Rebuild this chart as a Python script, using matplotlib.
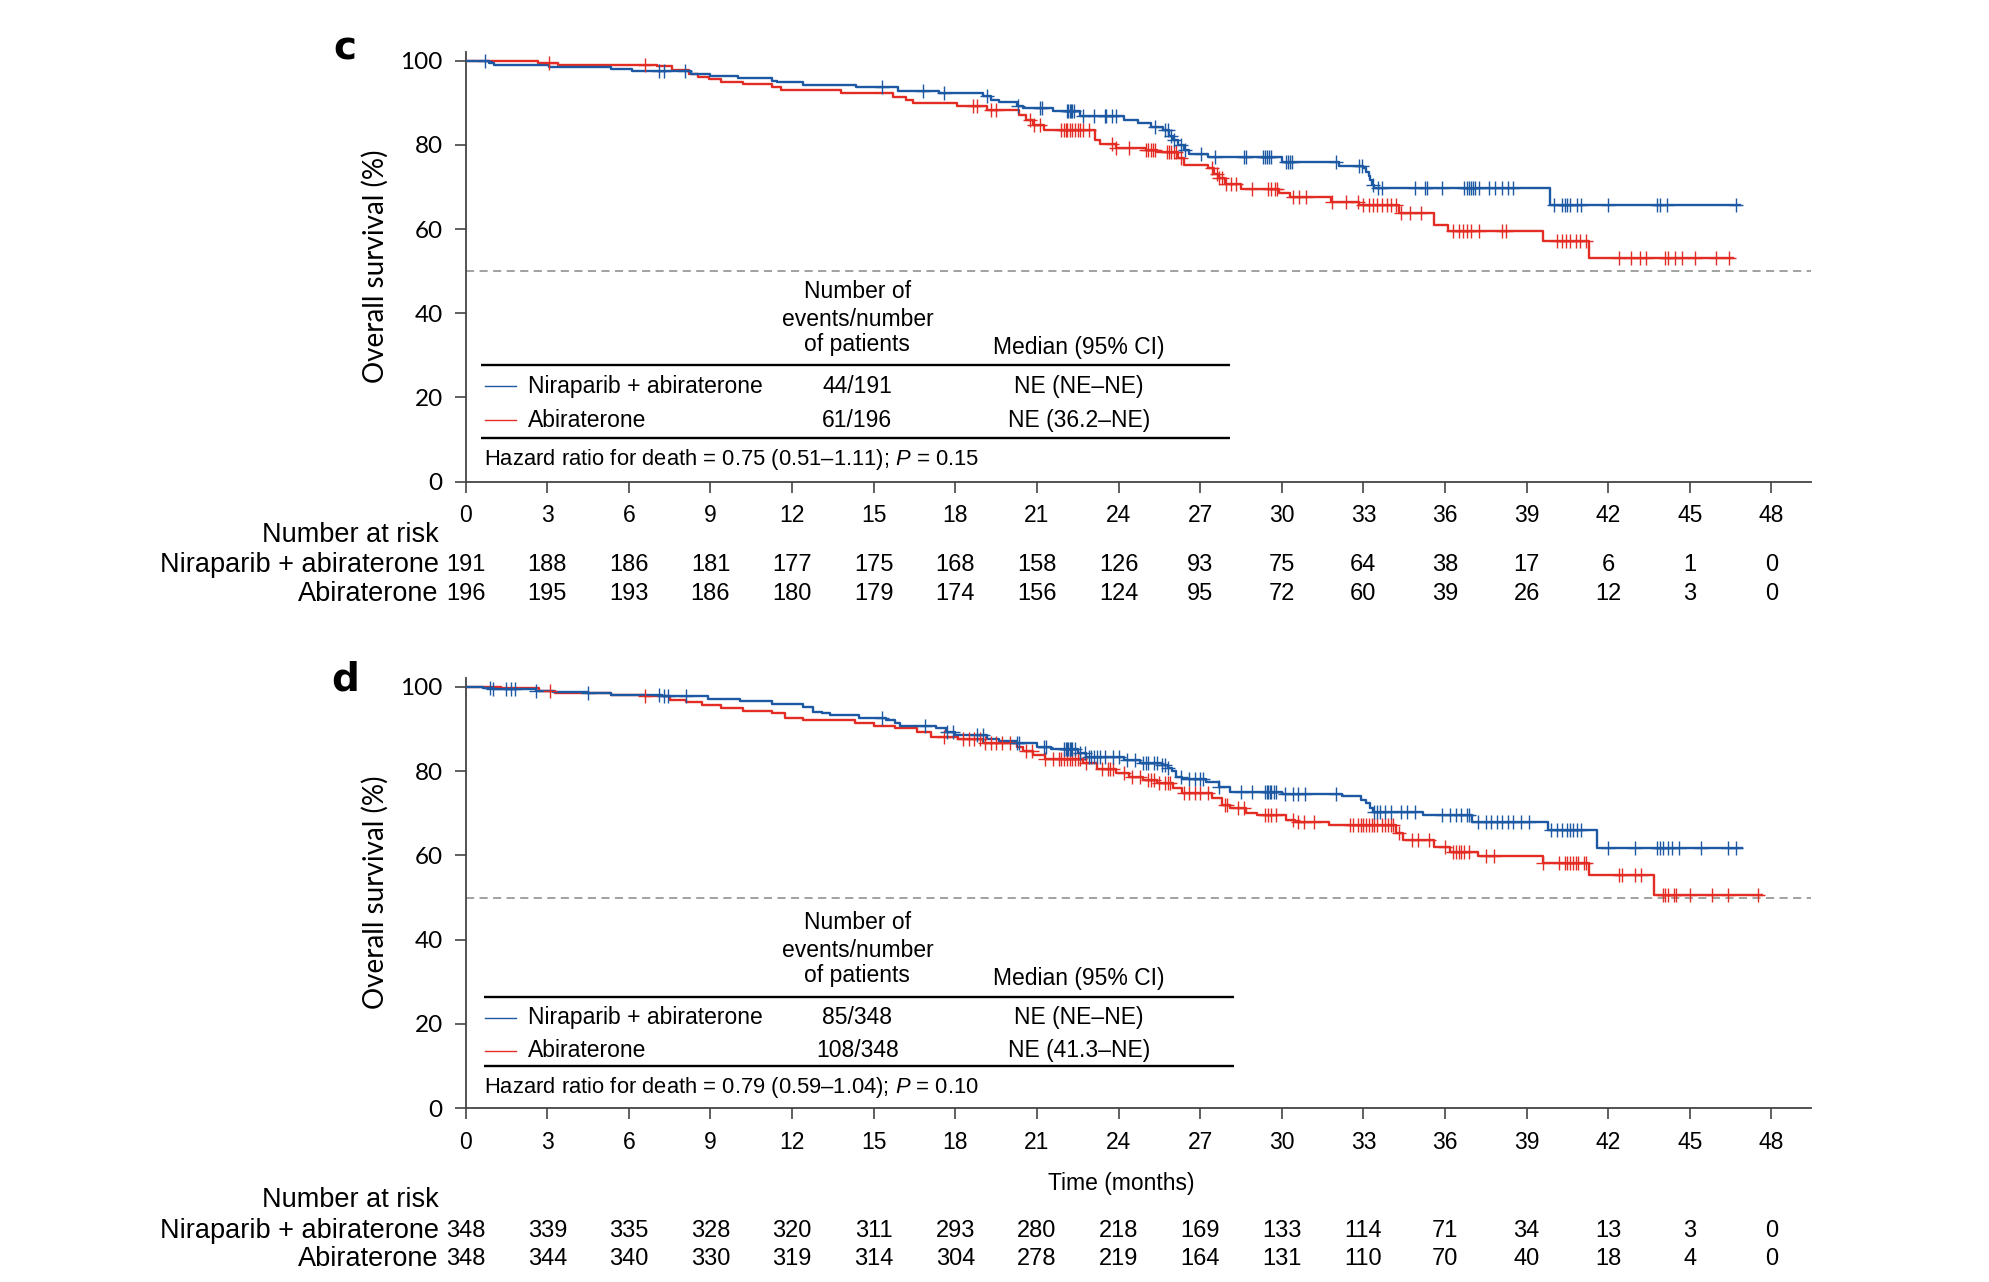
import numpy as np
import matplotlib
matplotlib.use('Agg')
import matplotlib.pyplot as plt
from matplotlib.transforms import blended_transform_factory

MAIN = ['Liberation Sans', 'DejaVu Sans']
YFONT = ['Lato', 'DejaVu Sans']
plt.rcParams['font.family'] = MAIN
plt.rcParams['mathtext.fontset'] = 'custom'
plt.rcParams['mathtext.rm'] = 'Liberation Sans'
plt.rcParams['mathtext.it'] = 'Liberation Sans:italic'

BLUE = '#1d58a2'
RED = '#e32d24'

x_ticks = list(range(0, 49, 3))
y_ticks = [0, 20, 40, 60, 80, 100]
arm_names = ['Niraparib + abiraterone', 'Abiraterone']

# ---------------- Panel c ----------------
c_nir_t = [0, 0.85, 1.05, 3.08, 5.35, 6.1, 8.3, 9.0, 10.0, 11.25, 11.45, 12.4, 14.35,
           15.9, 17.4, 19.0, 19.3, 19.6, 20.25, 20.5, 21.6, 22.6, 24.2, 24.7, 25.2,
           25.65, 25.85, 26.0, 26.2, 26.4, 26.6, 27.3, 30.0, 32.1, 33.0, 33.1, 33.2,
           33.25, 33.3, 33.4, 39.85]
c_nir_s = [100, 99.5, 99.0, 98.4, 97.9, 97.5, 96.9, 96.4, 95.9, 95.2, 94.8, 94.3, 93.7,
           92.7, 92.2, 91.5, 90.7, 90.1, 89.2, 88.7, 88.0, 86.9, 86.0, 85.2, 84.3,
           83.4, 82.1, 81.1, 79.9, 78.7, 77.9, 77.0, 76.0, 75.0, 74.4, 73.6, 72.6,
           71.6, 70.4, 69.7, 65.6]
c_nir_end = 46.85
c_nir_cens = [0.72, 7.1, 7.3, 8.05, 15.3, 16.8, 17.6, 19.15, 20.3, 21.1, 21.2, 22.1, 22.15,
              22.2, 22.25, 22.3, 22.35, 22.7, 23.1, 23.5, 23.55, 23.75, 23.9, 25.35, 25.7,
              25.8, 25.94, 26.02, 26.3, 26.45, 27.04, 27.54, 28.6, 28.7, 29.3, 29.38, 29.45,
              29.52, 29.6, 30.15, 30.22, 30.3, 30.38, 32.0, 32.85, 32.94, 33.36, 33.55, 33.7,
              34.9, 35.25, 35.35, 35.9, 36.7, 36.8, 36.88, 36.95, 37.03, 37.12, 37.25, 37.6,
              37.85, 38.1, 38.3, 38.5, 40.0, 40.3, 40.4, 40.5, 40.6, 40.85, 41.0, 42.0,
              43.8, 43.9, 44.15, 46.7]

c_abi_t = [0, 2.66, 3.4, 7.04, 7.6, 8.2, 8.55, 8.95, 9.4, 10.2, 11.25, 11.6, 13.8, 15.7,
           16.2, 16.45, 18.05, 19.15, 20.35, 20.6, 20.85, 21.25, 23.15, 23.3, 23.9, 25.0,
           25.4, 26.2, 26.4, 27.3, 27.5, 27.7, 27.9, 28.5, 29.9, 30.3, 31.8, 32.85, 34.3,
           35.6, 36.1, 39.6, 41.3]
c_abi_s = [100, 99.5, 99.0, 98.6, 97.8, 96.8, 96.2, 95.6, 94.9, 94.4, 93.8, 92.9, 92.2, 91.4,
           90.7, 90.0, 89.2, 88.3, 87.1, 85.9, 84.7, 83.5, 81.2, 80.1, 79.3, 78.7,
           78.2, 76.8, 75.3, 74.4, 73.0, 72.0, 70.6, 69.6, 68.6, 67.7, 66.5, 65.7, 63.9,
           60.9, 59.5, 57.1, 53.0]
c_abi_end = 46.6
c_abi_cens = [3.08, 6.6, 18.65, 18.8, 19.3, 19.5, 20.75, 20.9, 21.1, 21.9, 22.0, 22.05, 22.1,
              22.2, 22.3, 22.4, 22.5, 22.6, 22.7, 22.9, 23.75, 23.9, 24.4, 25.0, 25.1, 25.18,
              25.26, 25.35, 25.77, 25.85, 25.94, 26.02, 26.1, 26.3, 27.45, 27.62, 27.7, 27.8,
              27.96, 28.13, 28.3, 28.9, 29.5, 29.6, 29.75, 29.82, 30.4, 30.65, 30.9, 31.85,
              32.35, 32.8, 33.0, 33.2, 33.35, 33.5, 33.7, 33.85, 34.0, 34.2, 34.4, 34.7, 35.1,
              36.3, 36.5, 36.65, 36.8, 36.95, 37.25, 38.1, 38.25, 40.1, 40.3, 40.45, 40.6,
              40.8, 40.95, 41.2, 42.4, 42.85, 43.15, 43.4, 44.1, 44.2, 44.45, 44.7, 45.2, 45.95,
              46.45]

c_risk_nir = [191, 188, 186, 181, 177, 175, 168, 158, 126, 93, 75, 64, 38, 17, 6, 1, 0]
c_risk_abi = [196, 195, 193, 186, 180, 179, 174, 156, 124, 95, 72, 60, 39, 26, 12, 3, 0]
c_events = ['44/191', '61/196']
c_median = ['NE (NE\u2013NE)', 'NE (36.2\u2013NE)']
c_hr = 'Hazard ratio for death = 0.75 (0.51\u20131.11); $\\it{P}$ = 0.15'

# ---------------- Panel d ----------------
d_nir_t = [0, 0.64, 1.0, 2.6, 3.2, 4.5, 5.35, 7.2, 7.7, 8.9, 10.1, 11.25, 12.4, 12.75, 13.1,
           13.4, 14.45, 15.45, 15.8, 15.95, 17.3, 17.65, 18.0, 19.15, 19.6, 20.25, 21.0,
           21.5, 22.5, 22.8, 24.2, 24.8, 25.6, 25.8, 25.95, 26.1, 26.35, 27.2, 27.7, 28.1,
           30.0, 32.2, 32.9, 33.1, 33.25, 33.36, 35.2, 37.0, 39.8, 41.6]
d_nir_s = [100, 99.7, 99.4, 99.0, 98.7, 98.4, 98.1, 97.9, 97.7, 97.2, 96.7, 96.0, 95.3, 94.1, 93.7,
           93.3, 92.5, 92.1, 91.3, 90.7, 90.1, 89.3, 88.5, 87.7, 87.1, 86.6, 85.8,
           85.2, 84.3, 83.4, 82.6, 82.0, 81.5, 80.7, 79.9, 78.7, 78.1, 77.3, 76.2, 75.1,
           74.5, 74.0, 73.2, 72.4, 71.2, 70.4, 69.6, 68.0, 66.0, 61.7]
d_nir_end = 46.9
d_nir_cens = [0.9, 1.0, 1.5, 1.65, 1.8, 2.6, 4.5, 7.1, 7.3, 7.45, 8.1, 15.3, 16.9, 17.7, 17.9,
              18.8, 19.0, 20.25, 20.35, 21.25, 21.35, 22.0, 22.05, 22.1, 22.15, 22.2, 22.25,
              22.3, 22.4, 22.6, 22.75, 22.9, 23.0, 23.1, 23.2, 23.3, 23.5, 23.8, 24.0, 24.3,
              24.6, 24.9, 25.0, 25.1, 25.3, 25.4, 25.6, 25.7, 25.8, 26.3, 26.6, 26.8, 27.0,
              27.1, 27.7, 28.5, 28.9, 29.4, 29.45, 29.5, 29.55, 29.6, 29.7, 29.8, 30.1, 30.4,
              30.6, 30.85, 32.0, 33.4, 33.5, 33.6, 33.8, 34.0, 34.4, 34.6, 34.9, 35.9, 36.2,
              36.4, 36.6, 36.8, 36.9, 37.2, 37.5, 37.7, 37.9, 38.1, 38.3, 38.5, 38.8, 39.1,
              39.9, 40.1, 40.3, 40.5, 40.6, 40.7, 40.85, 41.0, 42.0, 43.0, 43.8, 43.9, 44.0,
              44.2, 44.35, 44.6, 45.4, 46.4, 46.7]

d_abi_t = [0, 1.3, 2.7, 3.3, 5.35, 6.6, 7.5, 8.1, 8.7, 9.4, 10.2, 11.25, 11.75, 12.4, 14.3,
           15.0, 15.8, 16.6, 17.1, 18.1, 19.0, 20.25, 20.5, 20.85, 21.3, 22.7, 23.2, 23.9,
           24.4, 24.9, 25.4, 26.0, 26.35, 27.45, 27.8, 28.1, 28.7, 29.1, 30.15, 30.5, 31.75,
           34.2, 34.45, 35.6, 36.2, 37.2, 39.6, 41.3, 43.7]
d_abi_s = [100, 99.6, 99.0, 98.4, 98.1, 97.9, 96.8, 96.4, 95.7, 94.9, 94.2, 93.7, 92.5, 92.1, 91.5,
           90.7, 90.1, 89.3, 88.1, 87.5, 86.6, 85.8, 84.8, 83.8, 82.8, 81.8, 80.4, 79.5,
           78.7, 77.9, 77.1, 75.9, 74.7, 73.6, 72.0, 71.2, 70.1, 69.6, 68.4, 67.8, 67.2,
           65.3, 63.7, 62.1, 60.9, 59.9, 58.3, 55.4, 50.6]
d_abi_end = 47.65
d_abi_cens = [3.1, 6.6, 17.6, 18.3, 18.5, 18.7, 18.9, 19.1, 19.3, 19.5, 19.7, 20.0, 20.6, 20.8,
              21.3, 21.6, 21.8, 21.9, 22.0, 22.1, 22.2, 22.3, 22.4, 22.5, 22.6, 22.8, 23.4,
              23.6, 23.7, 23.8, 24.2, 24.5, 24.8, 25.1, 25.2, 25.3, 25.5, 25.7, 25.8, 25.9,
              26.4, 26.6, 26.8, 27.0, 27.3, 27.9, 28.0, 28.4, 28.6, 29.4, 29.5, 29.6, 29.8,
              30.4, 30.6, 30.8, 31.2, 32.5, 32.6, 32.8, 32.9, 33.0, 33.1, 33.2, 33.3, 33.4,
              33.5, 33.7, 33.8, 33.9, 34.0, 34.1, 34.3, 34.8, 35.0, 35.4, 36.0, 36.3, 36.4,
              36.5, 36.6, 36.7, 36.9, 37.5, 37.8, 39.6, 40.2, 40.4, 40.5, 40.6, 40.7, 40.8,
              40.9, 41.1, 41.2, 42.4, 42.5, 43.0, 43.2, 44.0, 44.1, 44.2, 44.4, 44.5, 45.0,
              45.8, 46.4, 47.5]

d_risk_nir = [348, 339, 335, 328, 320, 311, 293, 280, 218, 169, 133, 114, 71, 34, 13, 3, 0]
d_risk_abi = [348, 344, 340, 330, 319, 314, 304, 278, 219, 164, 131, 110, 70, 40, 18, 4, 0]
d_events = ['85/348', '108/348']
d_median = ['NE (NE\u2013NE)', 'NE (41.3\u2013NE)']
d_hr = 'Hazard ratio for death = 0.79 (0.59\u20131.04); $\\it{P}$ = 0.10'

XMAX = 49.45
YMAX = 102

fig = plt.figure(figsize=(19.9, 12.82), dpi=100)
AX_LEFT = 0.2340
AX_W = 0.6760
ax_c = fig.add_axes([AX_LEFT, 0.6243, AX_W, 0.335])
ax_d = fig.add_axes([AX_LEFT, 0.1355, AX_W, 0.3354])


def surv_at(t, s, c):
    idx = np.searchsorted(np.asarray(t), np.asarray(c), side='right') - 1
    return np.asarray(s)[idx]


def draw_arm(ax, t, s, end, cens, color):
    xs = list(t) + [end]
    ys = list(s) + [s[-1]]
    ax.step(xs, ys, where='post', color=color, lw=1.7, zorder=3)
    ax.plot(cens, surv_at(t, s, cens), ls='none', marker='+', ms=9.5, mew=1.0,
            color=color, zorder=4)


def style_axes(ax):
    ax.set_xlim(0, XMAX)
    ax.set_ylim(0, YMAX)
    for sp in ['top', 'right']:
        ax.spines[sp].set_visible(False)
    for sp in ['left', 'bottom']:
        ax.spines[sp].set_color('#444444')
        ax.spines[sp].set_linewidth(1.3)
    ax.set_xticks(x_ticks)
    ax.set_yticks(y_ticks)
    ax.tick_params(axis='both', direction='out', length=8, width=1.2, color='#444444',
                   labelcolor='black')
    ax.tick_params(axis='x', pad=8, labelsize=16.5)
    ax.tick_params(axis='y', pad=8.5, labelsize=17.5)
    for lab in ax.get_yticklabels():
        lab.set_family(YFONT)
    ax.set_ylabel('Overall survival (%)', family=YFONT, fontsize=20)
    ax.yaxis.set_label_coords(-0.057, 0.502)
    ax.axhline(50, color='#9a9a9a', lw=1.3, ls=(0, (4.5, 3)), zorder=1)


def draw_table(ax, ys, events, median, hr):
    (y_h1, y_h2, y_h3, y_med, y_top, y_r1, y_r2, y_bot, y_hr, x_r0, x_r1) = ys
    fs = 16.5
    ax.text(14.4, y_h1, 'Number of', ha='center', va='center', fontsize=fs)
    ax.text(14.4, y_h2, 'events/number', ha='center', va='center', fontsize=fs)
    ax.text(14.4, y_h3, 'of patients', ha='center', va='center', fontsize=fs)
    ax.text(22.55, y_med, 'Median (95% CI)', ha='center', va='center', fontsize=fs)
    ax.plot([x_r0, x_r1], [y_top, y_top], color='black', lw=1.7, solid_capstyle='butt')
    ax.plot([x_r0, x_r1], [y_bot, y_bot], color='black', lw=1.7, solid_capstyle='butt')
    for y, col, name, ev, med in zip([y_r1, y_r2], [BLUE, RED], arm_names, events, median):
        ax.plot([0.72, 1.85], [y, y], color=col, lw=1.0)
        ax.text(2.3, y, name, ha='left', va='center', fontsize=fs)
        ax.text(14.4, y, ev, ha='center', va='center', fontsize=fs)
        ax.text(22.55, y, med, ha='center', va='center', fontsize=fs)
    ax.text(0.67, y_hr, hr, ha='left', va='center', fontsize=15.8)


def draw_risk(ax, y_head, y1, y2, risk1, risk2):
    trans = blended_transform_factory(ax.transData, fig.transFigure)
    fig.text(0.2205, y_head, 'Number at risk', ha='right', va='center', fontsize=19.5)
    fig.text(0.2205, y1, arm_names[0], ha='right', va='center', fontsize=19.5)
    fig.text(0.2205, y2, arm_names[1], ha='right', va='center', fontsize=19.5)
    for xt, a, b in zip(x_ticks, risk1, risk2):
        ax.text(xt, y1, str(a), transform=trans, ha='center', va='center', fontsize=17)
        ax.text(xt, y2, str(b), transform=trans, ha='center', va='center', fontsize=17)


# Panel c
style_axes(ax_c)
draw_arm(ax_c, c_abi_t, c_abi_s, c_abi_end, c_abi_cens, RED)
draw_arm(ax_c, c_nir_t, c_nir_s, c_nir_end, c_nir_cens, BLUE)
draw_table(ax_c, (45.1, 38.6, 32.5, 31.8, 27.7, 22.6, 14.6, 10.4, 5.3, 0.56, 28.1),
           c_events, c_median, c_hr)
draw_risk(ax_c, 0.5825, 0.5596, 0.5368, c_risk_nir, c_risk_abi)

# Panel d
style_axes(ax_d)
draw_arm(ax_d, d_abi_t, d_abi_s, d_abi_end, d_abi_cens, RED)
draw_arm(ax_d, d_nir_t, d_nir_s, d_nir_end, d_nir_cens, BLUE)
draw_table(ax_d, (44.1, 37.5, 31.4, 30.8, 26.5, 21.5, 13.7, 10.1, 5.0, 0.67, 28.25),
           d_events, d_median, d_hr)
trans_d = blended_transform_factory(ax_d.transData, fig.transFigure)
ax_d.text(24.1, 0.0765, 'Time (months)', transform=trans_d, ha='center', va='center',
          fontsize=16.5)
draw_risk(ax_d, 0.0636, 0.0398, 0.0179, d_risk_nir, d_risk_abi)

# Panel letters
fig.text(0.1735, 0.962, 'c', ha='center', va='center', fontsize=28,
         fontweight='bold', family=['DejaVu Sans'])
fig.text(0.1735, 0.470, 'd', ha='center', va='center', fontsize=28,
         fontweight='bold', family=['DejaVu Sans'])

fig.savefig('out.png', dpi=100)
